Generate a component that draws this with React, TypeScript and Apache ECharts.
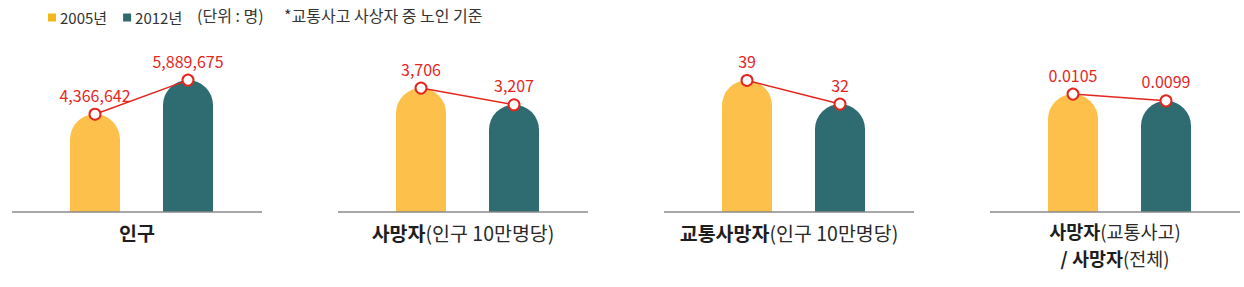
import React, { useEffect, useRef } from "react";
import * as echarts from "echarts";

// ---- data ----
const years = ["2005년", "2012년"];
const population = [4366642, 5889675];
const deathsPer100k = [3706, 3207];
const trafficDeathsPer100k = [39, 32];
const trafficShareOfDeaths = [0.0105, 0.0099];
const panelValues = [population, deathsPer100k, trafficDeathsPer100k, trafficShareOfDeaths];
const panelAxisMax = [7680000, 5144, 51, 0.01532];
const panelTitles: string[][] = [
  ["{b|인구}"],
  ["{b|사망자}{r|(인구 10만명당)}"],
  ["{b|교통사망자}{r|(인구 10만명당)}"],
  ["{b|사망자}{r|(교통사고)}", "{b|/ 사망자}{r|(전체)}"],
];
const unitNote = "(단위 : 명)";
const footNote = "*교통사고 사상자 중 노인 기준";

// ---- styles ----
const BAR_COLORS = ["#FDC04B", "#2E6C71"];
const LEGEND_COLORS = ["#F4B81C", "#2E6A6E"];
const RED = "#E5261F";
const FONT = "'Noto Sans CJK KR', 'Noto Sans', sans-serif";
const PANEL_LEFT = [12, 338, 664, 990];
const AXIS_W = 250;
const BASE_Y = 212;

function fmt(v: number): string {
  if (Number.isInteger(v)) return v.toLocaleString("en-US");
  return String(v);
}

export default function App() {
  const ref = useRef<HTMLDivElement>(null);
  useEffect(() => {
    if (!ref.current) return;
    const chart = echarts.init(ref.current, undefined, { renderer: "svg" });

    const grids: any[] = [];
    const xAxes: any[] = [];
    const yAxes: any[] = [];
    const series: any[] = [];
    const graphics: any[] = [];

    panelValues.forEach((vals, i) => {
      const L = PANEL_LEFT[i];
      grids.push({ left: L + 36.5, width: 186, top: 40, bottom: 287 - BASE_Y });
      xAxes.push({
        type: "category",
        gridIndex: i,
        data: years,
        axisLine: { show: false },
        axisTick: { show: false },
        axisLabel: { show: false },
      });
      yAxes.push({
        type: "value",
        gridIndex: i,
        min: 0,
        max: panelAxisMax[i],
        show: false,
        splitLine: { show: false },
      });
      years.forEach((y, k) => {
        series.push({
          type: "bar",
          name: y,
          xAxisIndex: i,
          yAxisIndex: i,
          barWidth: 50,
          barGap: "-100%",
          itemStyle: { color: BAR_COLORS[k], borderRadius: [25, 25, 0, 0] },
          data: vals.map((v, j) => (j === k ? v : "-")),
          z: 2,
        });
      });
      series.push({
        type: "line",
        name: "trend" + i,
        xAxisIndex: i,
        yAxisIndex: i,
        data: vals,
        symbol: "circle",
        symbolSize: 11,
        lineStyle: { color: RED, width: 1.5 },
        itemStyle: { color: "#ffffff", borderColor: RED, borderWidth: 2 },
        label: {
          show: true,
          position: "top",
          distance: 5,
          color: RED,
          fontSize: 16,
          fontFamily: FONT,
          formatter: (p: any) => fmt(p.value),
        },
        z: 5,
      });
      graphics.push({
        type: "line",
        shape: { x1: L, y1: BASE_Y, x2: L + AXIS_W, y2: BASE_Y },
        style: { stroke: "#8a8a8a", lineWidth: 1.5 },
        z: 10,
      });
      const multi = panelTitles[i].length > 1;
      const fs = multi ? 18.5 : 19.5;
      panelTitles[i].forEach((line, li) => {
        graphics.push({
          type: "text",
          x: L + AXIS_W / 2,
          y: multi ? 231 + li * 27 : 232,
          style: {
            text: line,
            align: "center",
            verticalAlign: "middle",
            fill: "#1e1e1e",
            fontFamily: FONT,
            fontSize: fs,
            rich: {
              b: { fontWeight: "bold", fontSize: fs, fontFamily: FONT, fill: "#1e1e1e" },
              r: { fontWeight: "normal", fontSize: fs, fontFamily: FONT, fill: "#2a2a2a" },
            },
          },
        });
      });
    });

    graphics.push({
      type: "text",
      x: 197,
      y: 15,
      style: { text: unitNote, fill: "#333", fontSize: 16, fontFamily: FONT, verticalAlign: "middle" },
    });
    graphics.push({
      type: "text",
      x: 284,
      y: 15,
      style: { text: footNote, fill: "#333", fontSize: 16, fontFamily: FONT, verticalAlign: "middle" },
    });

    chart.setOption({
      animation: false,
      grid: grids,
      xAxis: xAxes,
      yAxis: yAxes,
      series,
      legend: {
        left: 43,
        top: 5,
        itemWidth: 8,
        itemHeight: 8,
        itemGap: 16,
        icon: "rect",
        textStyle: { fontSize: 15, color: "#333", fontFamily: FONT, padding: [0, 0, 0, -1] },
        data: years.map((y, k) => ({ name: y, itemStyle: { color: LEGEND_COLORS[k] } })),
      },
      graphic: graphics,
    });
    return () => chart.dispose();
  }, []);
  return (
    <div
      ref={ref}
      style={{ position: "absolute", left: 0, top: 0, width: 1244, height: 287, background: "#fff" }}
    />
  );
}
